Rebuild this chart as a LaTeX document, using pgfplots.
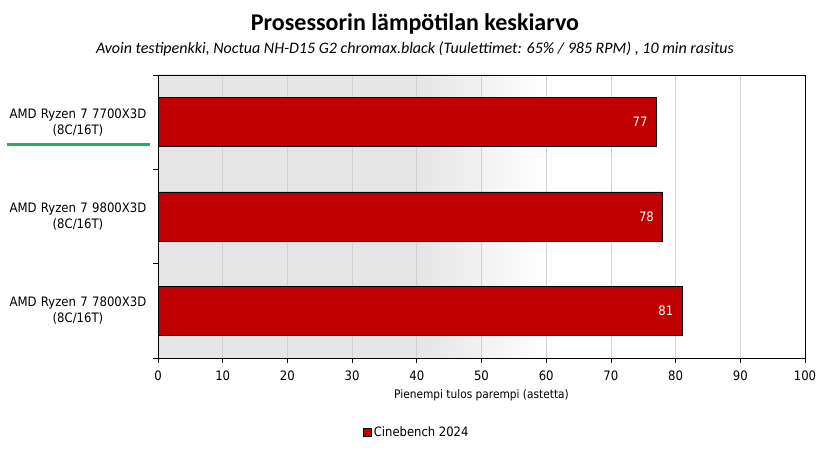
\documentclass[border=0pt]{standalone}
\usepackage{pgfplots}
\pgfplotsset{compat=1.18}
\usepackage{fontspec}
\setmainfont{Carlito}
\newfontfamily\tah{DejaVu Sans Condensed}
\definecolor{barred}{RGB}{192,0,0}
\definecolor{bggray}{RGB}{229,229,229}
\definecolor{gridgray}{RGB}{208,208,208}
\definecolor{lgreen}{RGB}{33,176,96}
\pgfdeclarehorizontalshading{bgshade}{100bp}{color(0bp)=(bggray); color(45bp)=(bggray); color(55bp)=(white); color(100bp)=(white)}
\begin{document}
\begin{tikzpicture}
\useasboundingbox (0pt,0pt) rectangle (830pt,454pt);
\node[font=\fontsize{24}{28}\selectfont\bfseries, anchor=base] at (415pt,423pt) {Prosessorin lämpötilan keskiarvo};
\node[font=\fontsize{16}{19}\selectfont\itshape, anchor=base] at (415pt,400pt) {Avoin testipenkki, Noctua NH-D15 G2 chromax.black (Tuulettimet: 65\% / 985 RPM) , 10 min rasitus};
\draw[lgreen, line width=3pt] (7pt,309pt) -- (150pt,309pt);
\begin{axis}[
  at={(158pt,96pt)}, anchor=south west,
  scale only axis, width=647pt, height=283pt,
  axis background/.style={shading=bgshade},
  xbar, xmin=0, xmax=100, ymin=-0.5, ymax=2.5,
  bar width=0.52,
  axis line style={black, line width=0.9pt},
  xtick={0,10,...,100},
  xtick pos=bottom, ytick pos=left,
  tick align=outside, major tick length=5pt,
  tick style={black, line width=0.8pt},
  xmajorgrids, major grid style={gridgray, line width=0.8pt},
  ytick={-0.5,0.5,1.5,2.5}, yticklabels={},
  extra y ticks={0,1,2},
  extra y tick labels={{AMD Ryzen 7 7800X3D\\(8C/16T)},{AMD Ryzen 7 9800X3D\\(8C/16T)},{AMD Ryzen 7 7700X3D\\(8C/16T)}},
  extra y tick style={major tick length=0pt, grid=none,
     yticklabel style={align=center, font=\tah\fontsize{13}{16}\selectfont, text width=145pt, xshift=-4pt}},
  /pgf/number format/assume math mode=true,
  xticklabel style={font=\tah\fontsize{13}{15}\selectfont, yshift=-4pt},
  xlabel={Pienempi tulos parempi (astetta)},
  xlabel style={font=\tah\fontsize{11.8}{13}\selectfont, yshift=-2pt},
  nodes near coords, point meta=x,
  nodes near coords style={white, anchor=east, xshift=-5pt, font=\tah\fontsize{13}{15}\selectfont},
  legend style={at={(0.40,-0.262)}, anchor=center, draw=none, fill=none,
     font=\tah\fontsize{12.9}{15}\selectfont, inner sep=0pt},
  legend image code/.code={\draw[fill=barred, draw=black, line width=0.8pt] (0pt,-4pt) rectangle (8pt,4pt);},
]
\addplot[fill=barred, draw=black, line width=0.8pt] coordinates {(81,0) (78,1) (77,2)};
\addlegendentry{Cinebench 2024}
\end{axis}
\end{tikzpicture}
\end{document}
